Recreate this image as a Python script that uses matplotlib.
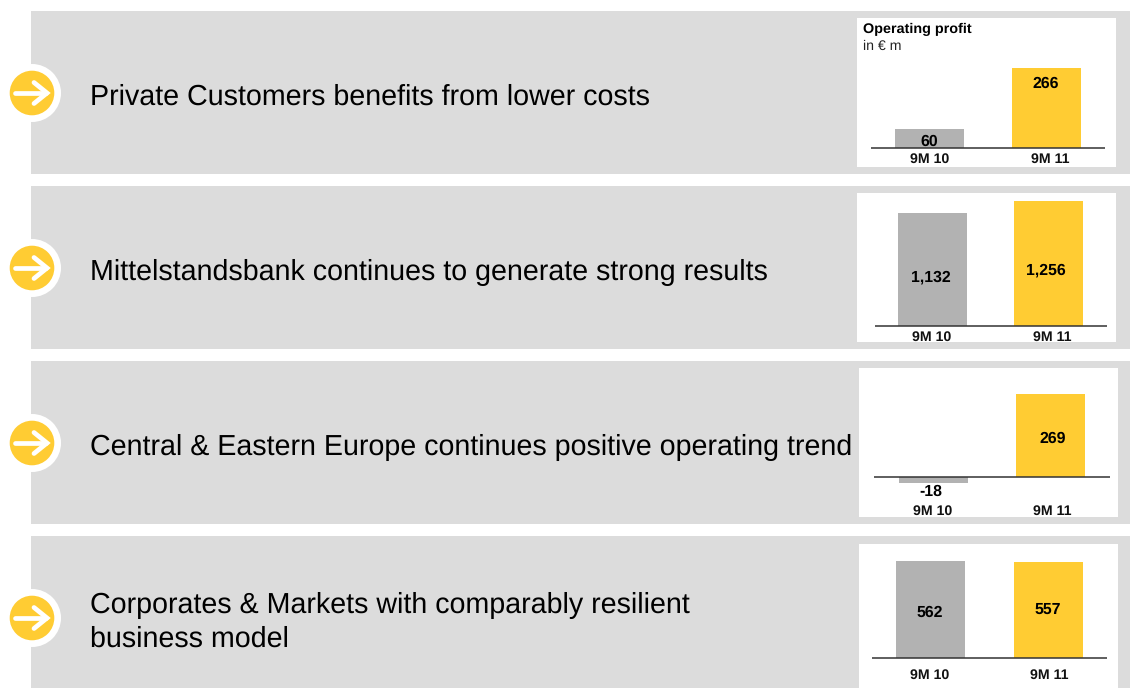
import matplotlib
matplotlib.use('Agg')
from matplotlib import pyplot as plt
from matplotlib.patches import Rectangle, Circle

plt.rcParams['font.family'] = ['Liberation Sans', 'DejaVu Sans']
plt.rcParams['text.hinting'] = 'no_hinting'
plt.rcParams['text.hinting_factor'] = 8

W, H = 1130, 688

headlines = [
    'Private Customers benefits from lower costs',
    'Mittelstandsbank continues to generate strong results',
    'Central & Eastern Europe continues positive operating trend',
    'Corporates & Markets with comparably resilient\nbusiness model',
]
periods = ['9M 10', '9M 11']
private_customers = [60, 266]
mittelstandsbank = [1132, 1256]
central_eastern = [-18, 269]
corporates_markets = [562, 557]
value_labels = [['60', '266'], ['1,132', '1,256'], ['-18', '269'], ['562', '557']]

GREY = '#dcdcdc'
BAR_GREY = '#b2b2b2'
YELLOW = '#ffcc33'

# panel top/bottom in pixels
panels = [(11, 174), (186, 349), (361, 524), (536, 688)]
# white box: left, top, right, bottom
boxes = [(857, 18, 1116, 167), (857, 193, 1116, 342), (859, 368, 1118, 517), (859, 544, 1118, 688)]
# baseline: left, right, y, then pixels per unit
baselines = [(871, 1105, 147.5, 80 / 266), (875, 1107, 325.5, 124.5 / 1256),
             (874, 1110, 477, 83 / 269), (872, 1107, 658, 97 / 562)]
bar_lefts = [(895, 1012), (898, 1014), (899, 1016), (896, 1014)]
series = [private_customers, mittelstandsbank, central_eastern, corporates_markets]
label_x = [(929, 1046), (931, 1046), (931, 1053), (930, 1048)]
label_y = [(141.5, 83.5), (277.5, 270.5), (491.5, 438.5), (612.5, 609.5)]
period_y = [159, 337, 511, 675]
period_x = [(930, 1050), (932, 1052), (933, 1052), (930, 1049)]

HEAD_SIZE = 20.58

fig = plt.figure(figsize=(W / 100, H / 100), dpi=100)
bg = fig.add_axes([0, 0, 1, 1])
bg.set_xlim(0, W)
bg.set_ylim(H, 0)
bg.axis('off')

# overlay for the labels so they sit above the small charts
top_ax = fig.add_axes([0, 0, 1, 1], zorder=10)
top_ax.set_xlim(0, W)
top_ax.set_ylim(H, 0)
top_ax.axis('off')

for i, (top, bottom) in enumerate(panels):
    bg.add_patch(Rectangle((31, top), W - 31, bottom - top, color=GREY, lw=0))
    l, t, r, b = boxes[i]
    bg.add_patch(Rectangle((l, t), r - l, b - t, color='white', lw=0))

    # arrow bullet
    cy = top + 82
    bg.add_patch(Circle((32, cy), 29, color='white', lw=0))
    bg.add_patch(Circle((32, cy), 22.3, color=YELLOW, lw=0))
    bg.plot([15, 46], [cy, cy], color='white', lw=3.4, solid_capstyle='round')
    bg.plot([34, 47, 34], [cy - 10.5, cy, cy + 10.5], color='white', lw=3.4,
            solid_capstyle='round', solid_joinstyle='miter')

    # headline
    lines = headlines[i].split('\n')
    if len(lines) == 1:
        bg.text(90, top + 86, lines[0], fontsize=HEAD_SIZE, color='black', va='center')
    else:
        bg.text(90, top + 69.5, lines[0], fontsize=HEAD_SIZE, color='black', va='center')
        bg.text(90, top + 103, lines[1], fontsize=HEAD_SIZE, color='black', va='center')

    # bar chart, axes spans the white box, y scale keeps pixels per unit
    ax = fig.add_axes([l / W, 1 - b / H, (r - l) / W, (b - t) / H])
    ax.axis('off')
    x0, x1, base, scale = baselines[i]
    ax.set_xlim(l, r)
    ax.set_ylim((base - b) / scale, (base - t) / scale)
    colors = [BAR_GREY, YELLOW]
    for j, v in enumerate(series[i]):
        ax.bar(bar_lefts[i][j], v, width=69, align='edge', color=colors[j], lw=0)
    ax.plot([x0, x1], [0, 0], color='#333333', lw=1.1, solid_capstyle='butt')

    for j in range(2):
        top_ax.text(label_x[i][j], label_y[i][j], value_labels[i][j], fontsize=11.4,
                    fontweight='bold', ha='center', va='center', color='black')
        top_ax.text(period_x[i][j], period_y[i], periods[j], fontsize=10.2,
                    fontweight='bold', ha='center', va='center', color='#111111')

top_ax.text(863, 29, 'Operating profit', fontsize=10.4, fontweight='bold', va='center')
top_ax.text(863, 46, 'in € m', fontsize=10.2, va='center', color='#222222')

plt.savefig('out.png', dpi=100)
